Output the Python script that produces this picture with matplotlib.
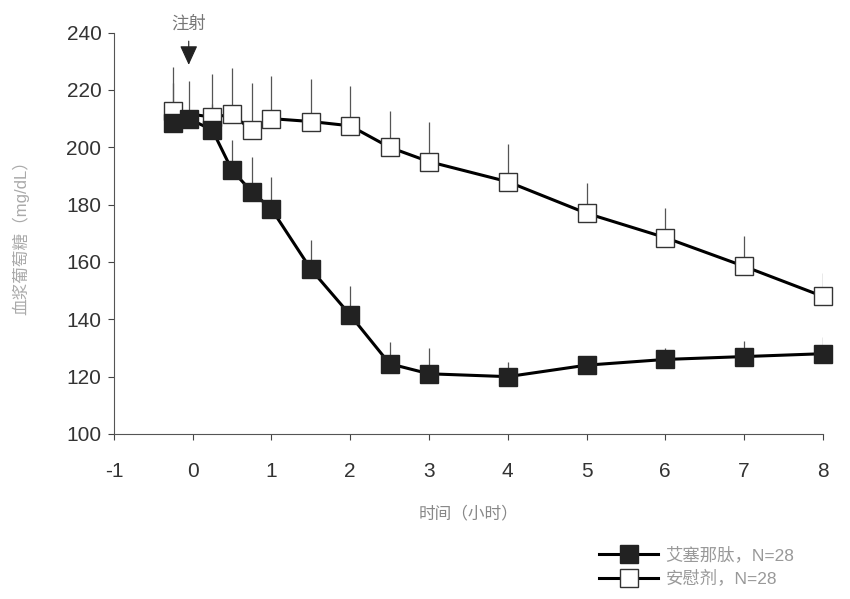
import matplotlib.pyplot as plt
from matplotlib.lines import Line2D

plt.rcParams['font.family'] = ['Liberation Sans', 'Noto Sans CJK SC', 'DejaVu Sans']
plt.rcParams['axes.unicode_minus'] = False

# time points (hours)
t_exe = [-0.25, -0.05, 0.25, 0.5, 0.75, 1, 1.5, 2, 2.5, 3, 4, 5, 6, 7, 8]
t_pla = [-0.25, 0.25, 0.5, 0.75, 1, 1.5, 2, 2.5, 3, 4, 5, 6, 7, 8]

# glucose means and upper error
exe_mean = [208.5, 210, 206, 192, 184.5, 178.5, 157.5, 141.5, 124.5, 121, 120, 124, 126, 127, 128]
exe_err = [14, 13, 9, 10.5, 12, 11, 10, 10, 7.5, 9, 5, 3, 4, 5.5, 6]
pla_mean = [212.5, 210.5, 211.5, 206, 210, 209, 207.5, 200, 195, 188, 177, 168.5, 158.5, 148]
pla_err = [15.5, 15, 16, 16.5, 15, 15, 14, 12.5, 14, 13, 10.5, 10.5, 10.5, 8]

inject_t = -0.05
xticks = list(range(-1, 9))
yticks = list(range(100, 241, 20))

fig = plt.figure(figsize=(8.5, 5.99), dpi=100)
ax = fig.add_axes([0.134, 0.2755, 0.834, 0.67])

ax.errorbar(t_pla, pla_mean, yerr=[[0] * len(pla_err), pla_err], fmt='none',
            ecolor='#555555', elinewidth=0.9, capsize=0, zorder=2)
ax.errorbar(t_exe, exe_mean, yerr=[[0] * len(exe_err), exe_err], fmt='none',
            ecolor='#555555', elinewidth=0.9, capsize=0, zorder=2)
ax.plot(t_pla, pla_mean, color='black', lw=2.2, marker='s', ms=13,
        mfc='white', mec='#333333', mew=1, zorder=3, clip_on=False)
ax.plot(t_exe, exe_mean, color='black', lw=2.2, marker='s', ms=13,
        mfc='#222222', mec='#222222', mew=1, zorder=4, clip_on=False)

# injection marker
ax.annotate('', xy=(inject_t, 227.8), xytext=(inject_t, 238),
            arrowprops=dict(arrowstyle='-|>,head_length=1.2,head_width=0.55',
                            color='#222222', lw=0.8), annotation_clip=False)
ax.text(inject_t, 240.3, '注射', ha='center', va='bottom', fontsize=12.5,
        color='#777777')

ax.set_xlim(-1, 8)
ax.set_ylim(100, 240)
ax.set_xticks(xticks)
ax.set_yticks(yticks)
ax.tick_params(labelsize=15, labelcolor='#333333', color='#444444',
               length=4, width=0.8)
ax.tick_params(axis='x', pad=16)
ax.tick_params(axis='y', pad=5)
for s in ['top', 'right']:
    ax.spines[s].set_visible(False)
for s in ['left', 'bottom']:
    ax.spines[s].set_color('#555555')
    ax.spines[s].set_linewidth(0.8)

ax.set_xlabel('时间（小时）', fontsize=12, color='#888888', labelpad=18)
fig.text(0.024, 0.61, '血浆葡萄糖（mg/dL）', rotation=90, ha='center',
         va='center', fontsize=12, color='#aaaaaa')

handles = [
    Line2D([], [], color='black', lw=2.2, marker='s', ms=13,
           mfc='#222222', mec='#222222'),
    Line2D([], [], color='black', lw=2.2, marker='s', ms=13,
           mfc='white', mec='#333333'),
]
fig.legend(handles, ['艾塞那肽，N=28', '安慰剂，N=28'], loc='upper left',
           bbox_to_anchor=(0.695, 0.102), frameon=False, fontsize=12.5,
           labelcolor='#999999', handlelength=3.4, labelspacing=0.4,
           handletextpad=0.4, borderpad=0)

fig.savefig('out.png', dpi=100)
